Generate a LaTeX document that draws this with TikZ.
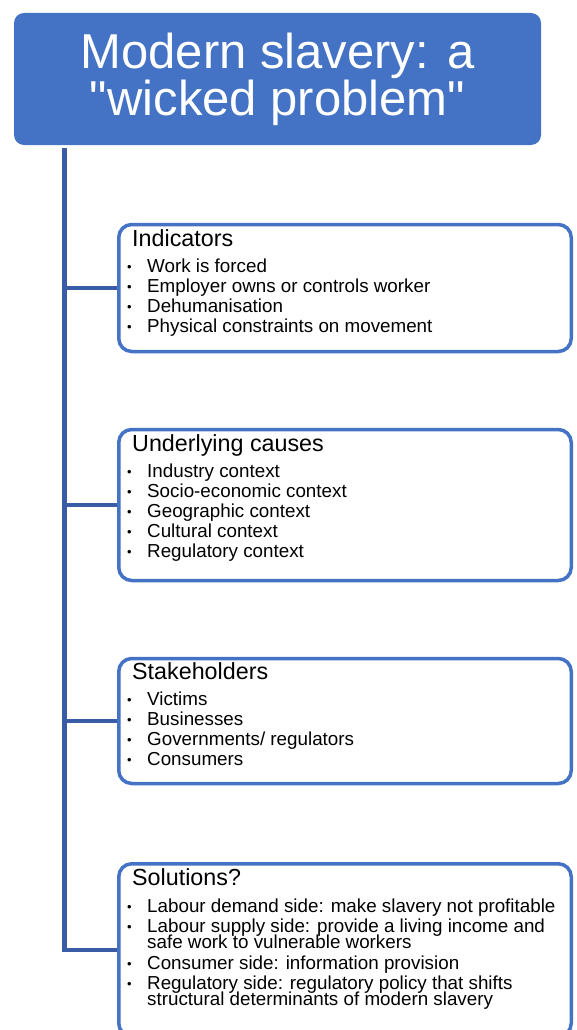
\documentclass[tikz,border=0pt]{standalone}
\usepackage{fontspec}
\setmainfont{Liberation Sans}

\definecolor{boxblue}{HTML}{4472C4}
\definecolor{spineblue}{HTML}{3A5CA6}

\newcommand\bul{\makebox[20pt][l]{\fontsize{13}{13}\selectfont\raisebox{1pt}{\textbullet}}}
\newcommand\head[1]{\hspace*{5pt}{\fontsize{23.3}{26}\selectfont #1}}

\begin{document}
\begin{tikzpicture}[x=1pt,y=-1pt,
  box/.style={draw=boxblue, line width=3.5pt, rounded corners=13pt,
    minimum width=452.5pt, inner sep=0pt},
  branch/.style={draw=spineblue, line width=4.5pt},
  body/.style={anchor=north west, align=left, inner sep=0pt,
    font=\fontsize{18.8}{20}\selectfont}]

\useasboundingbox (0,0) rectangle (576,1030);

\node[fill=boxblue, rounded corners=10pt, minimum width=527pt,
  minimum height=132pt, text=white, align=center,
  font=\fontsize{49}{40}\selectfont] (title) at (277.5,79)
  {Modern slavery: a\\\textquotedbl wicked problem\textquotedbl};

% the four boxes
\node[box, minimum height=127pt] (ind) at (345,288) {};
\node[box, minimum height=151pt] (cause) at (345,505) {};
\node[box, minimum height=125pt] (stake) at (345,721) {};
\node[box, minimum height=172.5pt] (sol) at (345,950) {};

\node[body] (indtxt) at ([shift={(10,7)}]ind.north west)
  {\head{Indicators}\\[6pt]
   \bul Work is forced\\
   \bul Employer owns or controls worker\\
   \bul Dehumanisation\\
   \bul Physical constraints on movement};

\node[body] (causetxt) at ([shift={(10,7)}]cause.north west)
  {\head{Underlying causes}\\[6pt]
   \bul Industry context\\
   \bul Socio-economic context\\
   \bul Geographic context\\
   \bul Cultural context\\
   \bul Regulatory context};

\node[body] (staketxt) at ([shift={(10,6)}]stake.north west)
  {\head{Stakeholders}\\[6pt]
   \bul Victims\\
   \bul Businesses\\
   \bul Governments/ regulators\\
   \bul Consumers};

\node[body] (soltxt) at ([shift={(10,6)}]sol.north west)
  {\head{Solutions?}\\[7pt]
   \bul Labour demand side: make slavery not profitable\\
   \bul Labour supply side: provide a living income and\\[-4pt]
   \hspace*{20pt}safe work to vulnerable workers\\[1pt]
   \bul Consumer side: information provision\\
   \bul Regulatory side: regulatory policy that shifts\\[-4pt]
   \hspace*{20pt}structural determinants of modern slavery};

% spine and branches
\coordinate (spine) at (64.5,148);
\draw[branch] (spine) |- (sol.west);
\foreach \b in {ind,cause,stake}
  \draw[branch] (spine |- \b.west) -- (\b.west);
\end{tikzpicture}
\end{document}
